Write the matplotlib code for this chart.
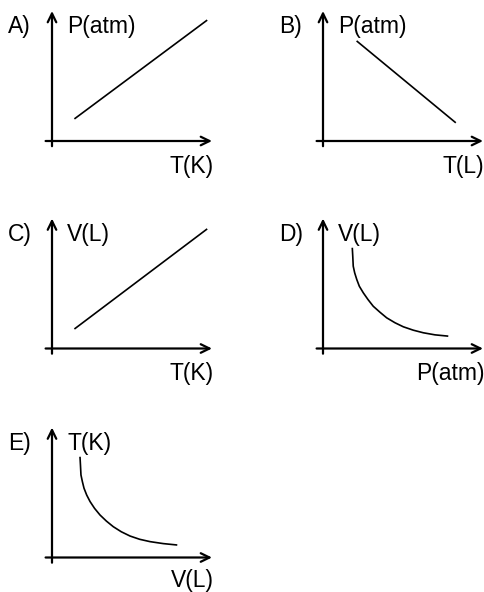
'''
Five gas-law sketch graphs (A-E), axes with arrows and no ticks.
'''
import matplotlib
matplotlib.use('Agg')
import matplotlib.pyplot as plt

plt.rcParams['font.family'] = ['Liberation Sans', 'DejaVu Sans']

# panel letters and axis names
letters = ['A)', 'B)', 'C)', 'D)', 'E)']
y_names = ['P(atm)', 'P(atm)', 'V(L)', 'V(L)', 'T(K)']
x_names = ['T(K)', 'T(L)', 'T(K)', 'P(atm)', 'V(L)']

# curves in each panel (arbitrary units, axes run 0..10)
a_x = [1.4, 9.7]
a_y = [1.7, 9.3]
b_x = [2.1, 8.3]
b_y = [7.7, 1.4]
c_x = [1.4, 9.7]
c_y = [1.5, 9.2]
d_x = [1.83, 1.86, 1.89, 1.98, 2.11, 2.27, 2.52, 2.81, 3.14, 3.56, 3.98,
       4.50, 5.02, 5.64, 6.27, 7.00, 7.83]
d_y = [7.75, 7.10, 6.33, 5.82, 5.31, 4.79, 4.28, 3.77, 3.25, 2.79, 2.36,
       1.98, 1.67, 1.41, 1.21, 1.05, 0.95]
e_x = [1.75, 1.78, 1.81, 1.90, 2.00, 2.17, 2.38, 2.66, 3.00, 3.40, 3.83,
       4.33, 4.88, 5.48, 6.13, 6.95, 7.83]
e_y = [7.75, 7.08, 6.35, 5.83, 5.33, 4.80, 4.30, 3.78, 3.27, 2.80, 2.37,
       1.98, 1.65, 1.40, 1.22, 1.07, 0.96]

curves = [(a_x, a_y), (b_x, b_y), (c_x, c_y), (d_x, d_y), (e_x, e_y)]

W, H = 485, 592
# origin of each panel in pixels (from top-left)
origins = [(52, 141), (323, 141), (52, 348.5), (323, 348.5), (52, 557.5)]
PX_X, PX_Y = 16.0, 13.0   # pixels per unit
XLIM = (-0.6, 10.2)
YLIM = (-0.6, 10.2)
FS = 16.5

fig = plt.figure(figsize=(W / 100, H / 100), dpi=100)

for i, (ox, oy) in enumerate(origins):
    left = ox + XLIM[0] * PX_X
    width = (XLIM[1] - XLIM[0]) * PX_X
    bottom = H - (oy - YLIM[0] * PX_Y)
    height = (YLIM[1] - YLIM[0]) * PX_Y
    ax = fig.add_axes([left / W, bottom / H, width / W, height / H])
    ax.set_xlim(*XLIM)
    ax.set_ylim(*YLIM)
    ax.axis('off')

    arrow = dict(arrowstyle='->,head_length=0.45,head_width=0.22', lw=1.6,
                 color='black', shrinkA=0, shrinkB=0, mutation_scale=14)
    ax.annotate('', xy=(10, 0), xytext=(-0.4, 0), arrowprops=arrow,
                annotation_clip=False)
    ax.annotate('', xy=(0, 10), xytext=(0, -0.4), arrowprops=arrow,
                annotation_clip=False)

    cx, cy = curves[i]
    ax.plot(cx, cy, color='black', lw=1.2, clip_on=False,
            solid_capstyle='butt', solid_joinstyle='round')

    ax.text(-2.75, 8.3, letters[i], fontsize=FS, ha='left', va='baseline',
            clip_on=False)
    ax.text(0.95, 8.3, y_names[i], fontsize=FS, ha='left', va='baseline',
            clip_on=False)
    xl_y = -2.3 if i == 4 else -2.45
    ax.text(10.1, xl_y, x_names[i], fontsize=FS, ha='right', va='baseline',
            clip_on=False)

fig.savefig('out.png', dpi=100)
